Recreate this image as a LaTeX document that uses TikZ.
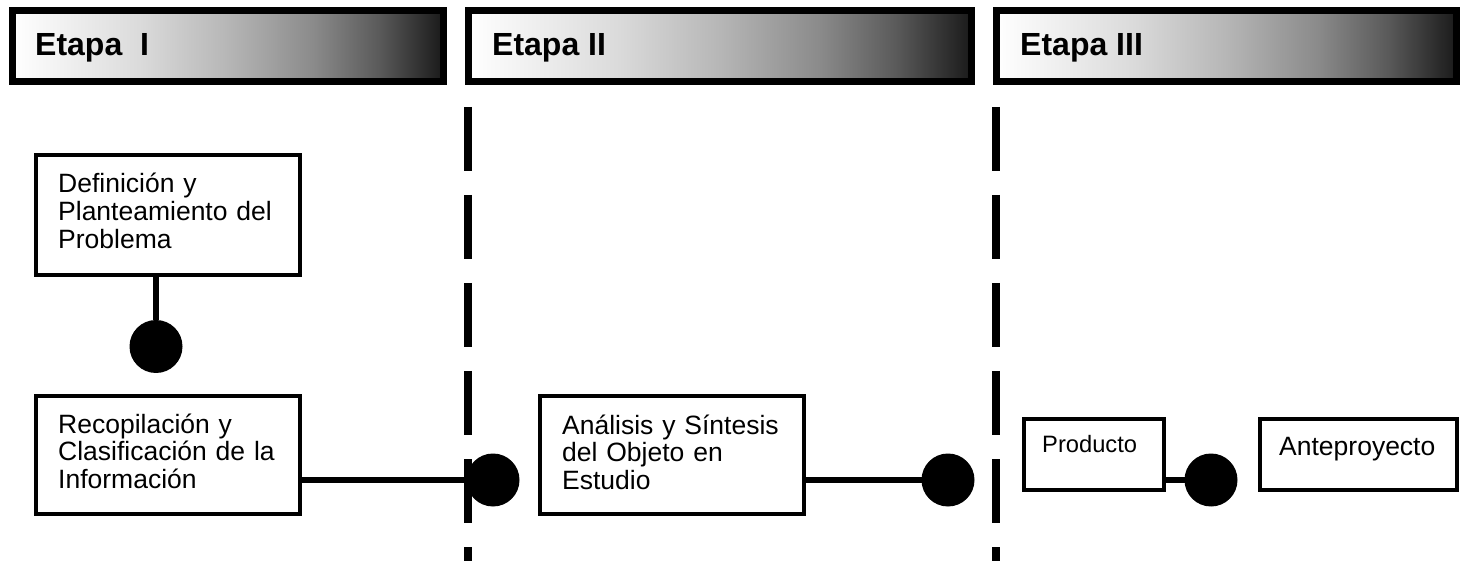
\documentclass[tikz,border=0pt]{standalone}
\usepackage{fontspec}
\setmainfont{Liberation Sans}
\definecolor{gA}{HTML}{DADADA}
\definecolor{gB}{HTML}{B6B6B6}
\definecolor{gC}{HTML}{8A8A8A}
\definecolor{gD}{HTML}{5A5A5A}
\definecolor{gE}{HTML}{1A1A1A}
\pgfdeclarehorizontalshading{hdrshade}{100bp}{color(0bp)=(white); color(25bp)=(white); color(40bp)=(gA); color(50bp)=(gB); color(60bp)=(gC); color(67.5bp)=(gD); color(75bp)=(gE); color(100bp)=(gE)}
\tikzset{
  hdrbox/.style={rectangle, draw=black, line width=7pt, shading=hdrshade, inner sep=0pt, outer sep=0pt, minimum height=71pt},
  hdrtext/.style={anchor=base west, inner sep=0pt, font=\fontsize{32}{32}\selectfont\bfseries},
  stagebox/.style={rectangle, draw=black, line width=4pt, fill=white, inner sep=0pt, outer sep=0pt},
  boxtext/.style={anchor=base west, inner sep=0pt, text width=250pt, align=left, font=\fontsize{26.5}{27.8}\selectfont},
  dot/.style={circle, fill=black, inner sep=0pt, outer sep=0pt, minimum size=53pt},
  link/.style={line width=5.5pt, draw=black},
  divider/.style={line width=8pt, draw=black, dash pattern=on 64pt off 24pt}
}
\begin{document}
\begin{tikzpicture}[x=1pt, y=-1pt]
\useasboundingbox (0,0) rectangle (1460,561);
% headers
\node[hdrbox, minimum width=431pt] (h1) at (228,46) {};
\node[hdrbox, minimum width=503pt] (h2) at (720,46) {};
\node[hdrbox, minimum width=460pt] (h3) at (1226.5,46) {};
\node[hdrtext] (t1) at (35,55.5) {Etapa\ \ I};
\node[hdrtext] (t2) at (492,55.5) {Etapa II};
\node[hdrtext] (t3) at (1020,55.5) {Etapa III};
% dividers
\coordinate (d1a) at (468,107);
\coordinate (d1b) at (468,561);
\coordinate (d2a) at (996,107);
\coordinate (d2b) at (996,561);
% boxes
\node[stagebox, minimum width=264pt, minimum height=120pt] (def) at (168,215) {};
\node[stagebox, minimum width=264pt, minimum height=118pt] (rec) at (168,455) {};
\node[stagebox, minimum width=264pt, minimum height=118pt] (ana) at (672,455) {};
\node[stagebox, minimum width=140pt, minimum height=71pt] (pro) at (1094,454.5) {};
\node[stagebox, minimum width=197pt, minimum height=71pt] (ant) at (1358.5,454.5) {};
\node[boxtext] (deft) at (58,193) {Definición y\\Planteamiento del\\Problema};
\node[boxtext] (rect) at (58,433) {Recopilación y\\Clasificación de la\\Información};
\node[boxtext] (anat) at (562,434) {Análisis y Síntesis\\del Objeto en\\Estudio};
\node[boxtext, font=\fontsize{23.7}{27}\selectfont] (prot) at (1042,453) {Producto};
\node[boxtext] (antt) at (1279,455) {Anteproyecto};
% dots
\node[dot] (c1) at (156,346.5) {};
\node[dot] (c2) at (493,480) {};
\node[dot] (c3) at (948,480) {};
\node[dot] (c4) at (1211,480) {};
% connectors
\draw[link] (def.south -| c1) -- (c1);
\draw[link] (rec.east |- c2) -- (c2);
\draw[link] (ana.east |- c3) -- (c3);
\draw[link] (pro.east |- c4) -- (c4);
\draw[divider] (d1a) -- (d1b);
\draw[divider] (d2a) -- (d2b);
\end{tikzpicture}
\end{document}
